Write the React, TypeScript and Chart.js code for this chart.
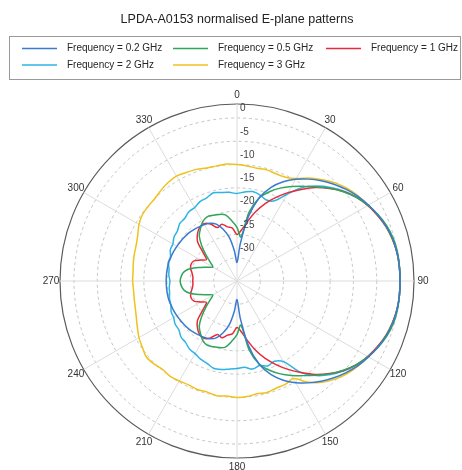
import React, { useEffect, useRef } from "react";
import { Chart, registerables } from "chart.js";

Chart.register(...registerables);

const FONT = "'Liberation Sans', Arial, Helvetica, sans-serif";
const TITLE = "LPDA-A0153 normalised E-plane patterns";

const ANGLES = [
  0, 5, 10, 15, 20, 25, 30, 35, 40, 45, 50, 55, 60, 65, 70, 75, 80, 85,
  90, 95, 100, 105, 110, 115, 120, 125, 130, 135, 140, 145, 150, 155, 160, 165, 170, 175,
  180, 185, 190, 195, 200, 205, 210, 215, 220, 225, 230, 235, 240, 245, 250, 255, 260, 265,
  270, 275, 280, 285, 290, 295, 300, 305, 310, 315, 320, 325, 330, 335, 340, 345, 350, 355,
];

const SERIES_NAMES = [
  "Frequency = 0.2 GHz",
  "Frequency = 0.5 GHz",
  "Frequency = 1 GHz",
  "Frequency = 2 GHz",
  "Frequency = 3 GHz",
];
const SERIES_COLORS = ["#3a7bcf", "#2fa65a", "#e62b3a", "#2db4e4", "#f0c21e"];

const F_0_2 = [
  -31, -27, -21, -16.5, -13.6, -11.5, -9.8, -8.3, -6.9, -5.6, -4.4, -3.3, -2.4, -1.6, -0.9, -0.4, -0.1, 0,
  0, 0, -0.1, -0.4, -0.9, -1.6, -2.4, -3.3, -4.4, -5.6, -6.9, -8.3, -9.8, -11.5, -13.6, -16.5, -21, -27,
  -31, -28.5, -25.5, -23.5, -22, -21.3, -21, -20.8, -20.6, -20.4, -20.3, -20.2, -20.1, -20, -19.9, -19.8, -19.8, -19.8,
  -19.8, -19.8, -19.8, -19.8, -19.9, -20, -20.1, -20.2, -20.3, -20.4, -20.6, -20.8, -21, -21.3, -22, -23.5, -25.5, -28.5,
];
const F_0_5 = [
  -23.5, -25.5, -20, -16.5, -14.6, -13, -11.6, -10.2, -8.6, -6.8, -5.2, -3.7, -2.5, -1.5, -0.7, -0.2, 0, 0,
  0, 0, 0, -0.2, -0.7, -1.5, -2.5, -3.7, -5.2, -6.8, -8.6, -10.2, -11.6, -13, -14.6, -16.5, -20, -25.5,
  -23.5, -22, -20.6, -20.2, -20, -19.8, -20.3, -21.3, -22.4, -24.3, -26.3, -28, -29, -28, -26.5, -24.7, -23.5, -23,
  -22.8, -23, -23.5, -24.7, -26.5, -28, -29, -28, -26.3, -24.3, -22.4, -21.3, -20.3, -19.8, -20, -20.2, -20.6, -22,
];
const F_1 = [
  -25, -24, -22, -19.6, -17.3, -15.2, -13.1, -11, -8.8, -6.9, -5.1, -3.7, -2.6, -1.7, -0.9, -0.4, -0.1, 0,
  0, 0, -0.1, -0.4, -0.9, -1.7, -2.6, -3.7, -5.1, -6.9, -8.8, -11, -13.1, -15.2, -17.3, -19.6, -22, -24,
  -25, -23.6, -23.2, -22.4, -22.8, -21.5, -20.8, -21, -21.8, -23, -25.5, -27, -26, -24.8, -24.5, -24.7, -25.2, -25.5,
  -25.5, -25.5, -25.2, -24.7, -24.5, -24.8, -26, -27, -25.5, -23, -21.8, -21, -20.8, -21.5, -22.8, -22.4, -23.2, -23.6,
];
const F_2 = [
  -16.2, -15.8, -15.5, -15.9, -16.5, -16, -13.5, -10.5, -8.4, -6.6, -5, -3.6, -2.5, -1.6, -0.9, -0.4, -0.1, 0,
  0, 0, -0.1, -0.4, -0.9, -1.6, -2.5, -3.6, -5, -6.6, -8.5, -11, -15, -16, -15.6, -16.2, -15.8, -16.4,
  -16.2, -16, -15.7, -15.6, -16.2, -16.5, -17, -17.2, -17.8, -18, -18.7, -18.8, -19.3, -19.4, -19.9, -20, -20.3, -20.4,
  -20.6, -20.3, -20.2, -19.7, -19.8, -19.2, -19.1, -18.5, -18.3, -17.6, -17.5, -16.9, -16.8, -16.2, -16, -15.4, -15.7, -15.9,
];
const F_3 = [
  -10, -10.2, -10.4, -10.3, -10.5, -10.4, -9.6, -8, -6.6, -5.2, -4.1, -3.2, -2.5, -1.7, -1, -0.5, -0.1, 0,
  0, 0, -0.1, -0.5, -1, -1.7, -2.5, -3.2, -4.1, -5.2, -6.6, -8.5, -10.8, -10.5, -10.5, -10.2, -10.4, -10.1,
  -10, -10.2, -10, -10.3, -10.2, -10.4, -10.2, -10, -10.2, -9.8, -9.6, -10.2, -10.7, -11.4, -12, -12.4, -12.6, -12.7,
  -12.6, -12.6, -12.4, -12.2, -12, -11.5, -10.7, -10.2, -10.1, -10, -9.6, -9.2, -9, -9.3, -9.5, -9.9, -9.9, -9.8,
];

const SERIES_VALUES = [F_0_2, F_0_5, F_1, F_2, F_3];

const R_MIN = -35;
const R_MAX = 3;
const GRID_VALUES = [-35, -30, -25, -20, -15, -10, -5, 0, 3];
const RADIAL_TICK_LABELS = [0, -5, -10, -15, -20, -25, -30];
const ANGLE_TICK_LABELS = [0, 30, 60, 90, 120, 150, 180, 210, 240, 270, 300, 330];

// legend layout: [lineStartX, rowY]
const LEGEND_SLOTS = [
  [22, 48.5],
  [173, 48.5],
  [326, 48.5],
  [22, 65],
  [173, 65],
];

export default function App() {
  const ref = useRef<HTMLCanvasElement>(null);

  useEffect(() => {
    const canvas = ref.current;
    if (!canvas) return;

    const overlay = {
      id: "overlay",
      afterDraw(chart: any) {
        const ctx = chart.ctx as CanvasRenderingContext2D;
        const scale = chart.scales.r;
        ctx.save();
        // angle labels
        ctx.font = `10px ${FONT}`;
        ctx.fillStyle = "#333";
        ctx.textAlign = "center";
        ctx.textBaseline = "middle";
        ANGLE_TICK_LABELS.forEach((a) => {
          const idx = ANGLES.indexOf(a);
          const p = scale.getPointPosition(idx, scale.drawingArea + 9);
          ctx.fillText(String(a), p.x, p.y);
        });
        // radial labels
        ctx.textAlign = "left";
        ctx.fillStyle = "#444";
        RADIAL_TICK_LABELS.forEach((v) => {
          const d = scale.getDistanceFromCenterForValue(v);
          ctx.fillText(String(v), scale.xCenter + 3, scale.yCenter - d - 9.5);
        });
        // legend
        ctx.strokeStyle = "#9a9a9a";
        ctx.lineWidth = 1;
        ctx.strokeRect(9.5, 36.5, 451, 43);
        ctx.font = `10px ${FONT}`;
        ctx.fillStyle = "#262626";
        SERIES_NAMES.forEach((name, i) => {
          const [x, y] = LEGEND_SLOTS[i];
          ctx.strokeStyle = SERIES_COLORS[i];
          ctx.lineWidth = 1.6;
          ctx.beginPath();
          ctx.moveTo(x, y);
          ctx.lineTo(x + 35, y);
          ctx.stroke();
          ctx.fillText(name, x + 45, y);
        });
        ctx.restore();
      },
    };

    const chart = new Chart(canvas, {
      type: "radar",
      data: {
        labels: ANGLES.map(String),
        datasets: SERIES_NAMES.map((name, i) => ({
          label: name,
          data: SERIES_VALUES[i],
          borderColor: SERIES_COLORS[i],
          backgroundColor: SERIES_COLORS[i],
          fill: false,
          borderWidth: 1.5,
          pointRadius: 0,
          tension: 0.3,
        })),
      },
      options: {
        responsive: true,
        maintainAspectRatio: false,
        animation: false,
        layout: { padding: { left: 60, right: 48, top: 0, bottom: 12 } },
        plugins: {
          legend: { display: false },
          tooltip: { enabled: false },
          title: {
            display: true,
            text: TITLE,
            color: "#222",
            font: { size: 12.5, weight: "normal", family: FONT, lineHeight: 1.2 },
            padding: { top: 12, bottom: 77 },
          },
        },
        scales: {
          r: {
            min: R_MIN,
            max: R_MAX,
            afterBuildTicks: (s: any) => {
              s.ticks = GRID_VALUES.map((v) => ({ value: v }));
            },
            ticks: { display: false },
            pointLabels: { display: false },
            grid: {
              circular: true,
              color: (c: any) => (c.tick && c.tick.value === R_MAX ? "#5a5a5a" : "#b5b5b5"),
              lineWidth: (c: any) => (c.tick && c.tick.value === R_MAX ? 1.2 : 0.8),
            },
            border: {
              dash: (c: any) => (c.tick && c.tick.value === R_MAX ? [] : [3, 3]),
            },
            angleLines: {
              color: (c: any) => (c.index % 6 === 0 ? "#dcdcdc" : "rgba(0,0,0,0)"),
              lineWidth: 1,
            },
          },
        },
      } as any,
      plugins: [overlay],
    });

    return () => chart.destroy();
  }, []);

  return (
    <div style={{ position: "fixed", left: 0, top: 0, width: 462, height: 470, background: "#fff" }}>
      <canvas ref={ref} />
    </div>
  );
}
